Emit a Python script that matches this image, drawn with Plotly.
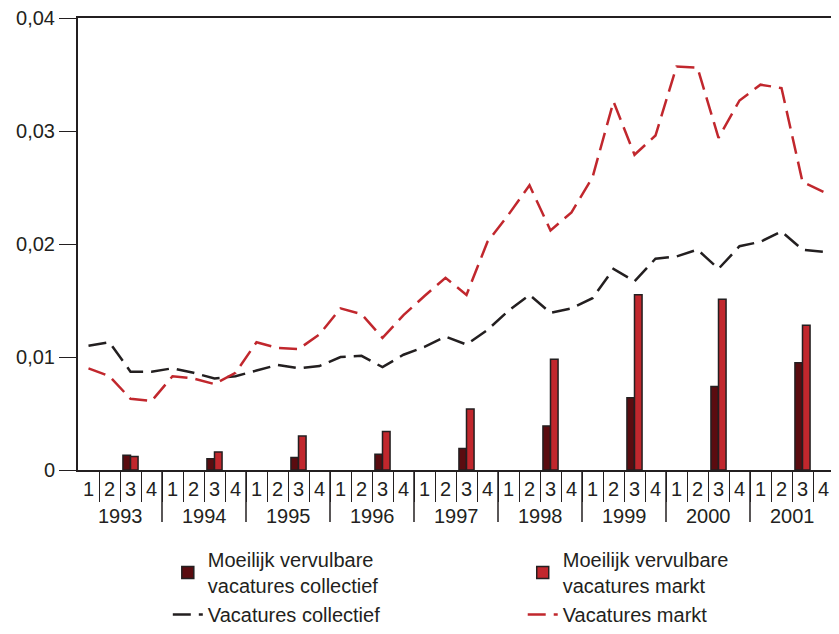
import plotly.graph_objects as go

# quarters 1993 Q1 .. 2001 Q4
years = ['1993', '1994', '1995', '1996', '1997', '1998', '1999', '2000', '2001']
quarters = ['1', '2', '3', '4']

vacatures_collectief = [
    0.0110, 0.0113, 0.0087, 0.0087,
    0.0090, 0.0086, 0.0081, 0.0083,
    0.0088, 0.0093, 0.0090, 0.0092,
    0.0100, 0.0101, 0.0091, 0.0102,
    0.0109, 0.0118, 0.0111, 0.0124,
    0.0141, 0.0155, 0.0139, 0.0143,
    0.0152, 0.0178, 0.0167, 0.0187,
    0.0189, 0.0195, 0.0178, 0.0198,
    0.0202, 0.0211, 0.0195, 0.0193,
]
vacatures_markt = [
    0.0090, 0.0083, 0.0063, 0.0061,
    0.0083, 0.0081, 0.0076, 0.0086,
    0.0113, 0.0108, 0.0107, 0.0120,
    0.0143, 0.0138, 0.0117, 0.0137,
    0.0154, 0.0170, 0.0155, 0.0202,
    0.0226, 0.0252, 0.0212, 0.0228,
    0.0259, 0.0326, 0.0279, 0.0296,
    0.0357, 0.0356, 0.0294, 0.0327,
    0.0341, 0.0338, 0.0255, 0.0246,
]
# moeilijk vervulbare vacatures, only measured in the 3rd quarter
mv_collectief = [0.0013, 0.0010, 0.0011, 0.0014, 0.0019, 0.0039, 0.0064, 0.0074, 0.0095]
mv_markt = [0.0012, 0.0016, 0.0030, 0.0034, 0.0054, 0.0098, 0.0155, 0.0151, 0.0128]

n = len(years) * len(quarters)
x_all = list(range(n))                         # one slot per quarter
x_q3 = [4 * i + 2 for i in range(len(years))]  # third quarter of each year

INK = '#231f20'
RED = '#c1272d'
DARK = '#5a0c10'
DASH = '18px,8px'

fig = go.Figure()
# left legend column: collectief, right column: markt
fig.add_trace(go.Bar(x=x_q3, y=mv_collectief, width=0.36, offset=-0.36,
                     name='Moeilijk vervulbare<br>vacatures collectief', legend='legend',
                     marker=dict(color=DARK, line=dict(color=INK, width=1.5))))
fig.add_trace(go.Bar(x=x_q3, y=mv_markt, width=0.36, offset=0,
                     name='Moeilijk vervulbare<br>vacatures markt', legend='legend2',
                     marker=dict(color=RED, line=dict(color=INK, width=1.5))))
fig.add_trace(go.Scatter(x=x_all, y=vacatures_collectief, mode='lines',
                         name='Vacatures collectief', legend='legend',
                         line=dict(color=INK, width=2.5, dash=DASH)))
fig.add_trace(go.Scatter(x=x_all, y=vacatures_markt, mode='lines',
                         name='Vacatures markt', legend='legend2',
                         line=dict(color=RED, width=2.5, dash=DASH)))

# year labels + long dividers under the axis
for i, yr in enumerate(years):
    fig.add_annotation(x=4 * i + 1.5, y=-0.102, xref='x', yref='paper', text=yr,
                       showarrow=False, yanchor='middle', font=dict(size=20))
    if i > 0:
        fig.add_shape(type='line', xref='x', yref='paper', x0=4 * i - 0.5, x1=4 * i - 0.5,
                      y0=0, y1=-0.115, line=dict(color=INK, width=1.5))

leg = dict(orientation='v', xanchor='left', yanchor='top', xref='container',
           yref='container', y=0.15, font=dict(size=20), traceorder='normal',
           bgcolor='rgba(0,0,0,0)')

# page body adds an 8px offset, so the figure is a bit smaller than the window
fig.update_layout(
    width=831, height=626,
    margin=dict(l=70, r=5, t=10, b=164, autoexpand=False),
    paper_bgcolor='white', plot_bgcolor='white',
    separators=',.',
    font=dict(family='Liberation Sans, Arial, sans-serif', size=20, color=INK),
    showlegend=True,
    legend=dict(leg, x=0.1923),
    legend2=dict(leg, x=0.6194),
)
fig.update_xaxes(range=[-0.5, n - 0.5], showline=True, linecolor=INK, linewidth=2,
                 mirror=True, ticks='', tickmode='array', tickvals=x_all,
                 ticktext=quarters * len(years), showgrid=False, zeroline=False,
                 tickfont=dict(size=20), automargin=False, ticklabeloverflow='allow',
                 minor=dict(tickmode='array', tickvals=[v + 0.5 for v in x_all[:-1]],
                            ticks='outside', ticklen=30, tickcolor=INK, tickwidth=1.2,
                            showgrid=False))
fig.update_yaxes(range=[0, 0.04], dtick=0.01, showline=True, linecolor=INK, linewidth=2,
                 mirror=True, ticks='outside', ticklen=17, tickcolor=INK,
                 showgrid=False, zeroline=False, tickfont=dict(size=20), automargin=False,
                 ticklabeloverflow='allow')

fig.write_html('out.html')
